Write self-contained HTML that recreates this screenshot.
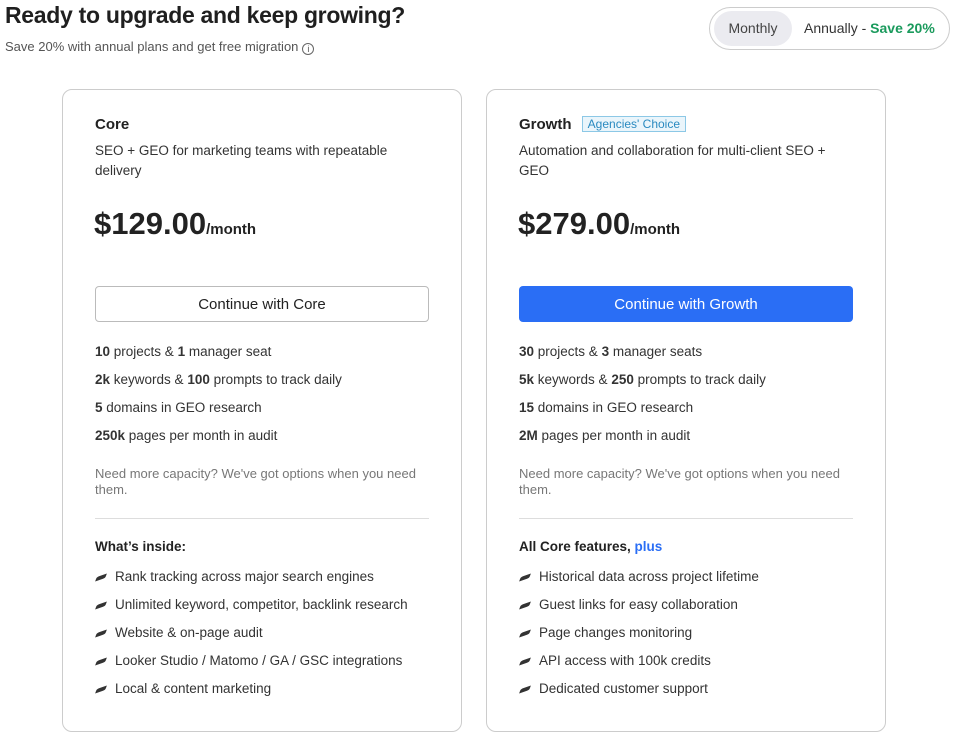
<!DOCTYPE html>
<html><head><meta charset="utf-8"><style>
*{margin:0;padding:0;box-sizing:border-box}
body{width:955px;height:739px;background:#fff;font-family:"Liberation Sans",sans-serif;color:#2b2b2b;position:relative;overflow:hidden}
.a{position:absolute;white-space:nowrap}
h1{position:absolute;left:5px;top:2px;font-size:23px;font-weight:bold;color:#1f1f1f;letter-spacing:-0.3px}
.sub{left:5px;top:39px;font-size:13px;color:#555}
.info{display:inline-block;width:12px;height:12px;border:1px solid #666;border-radius:50%;font-size:9px;text-align:center;line-height:10px;vertical-align:-1px;margin-left:4px}
.tog{left:709px;top:7px;width:241px;height:43px;border:1px solid #ccc;border-radius:22px}
.mon{left:714px;top:11px;width:78px;height:35px;background:#ebebf0;border-radius:18px;font-size:14px;color:#444;text-align:center;line-height:35px}
.ann{left:804px;top:20px;font-size:14px;color:#333}
.card{position:absolute;top:89px;width:400px;height:643px;border:1px solid #ccc;border-radius:10px}
.t{font-size:15px;font-weight:bold;color:#222}
.d{font-size:13.5px;color:#333;line-height:20px;white-space:normal;width:330px}
.p{font-size:31px;font-weight:bold;color:#222}
.p span{font-size:15px}
.btn{width:334px;height:36px;border-radius:4px;font-size:15px;text-align:center;line-height:38px}
.f{font-size:13.5px;color:#333}
.n{font-size:13px;color:#777;line-height:16px;white-space:normal;width:330px}
.hr{width:334px;height:1px;background:#ddd}
.li{font-size:13.5px;color:#333}
.li:before{content:"";display:inline-block;width:8px;height:5px;background:#333;transform:skewX(-40deg) rotate(-25deg);border-radius:2px 0 2px 0;margin:0 10px 1px 2px}
</style></head><body>
<h1>Ready to upgrade and keep growing?</h1>
<div class="a sub">Save 20% with annual plans and get free migration<span class="info">i</span></div>
<div class="a tog"></div>
<div class="a mon">Monthly</div>
<div class="a ann">Annually - <b style="color:#1a9a5c">Save 20%</b></div>

<div class="card" style="left:62px"></div>
<div class="card" style="left:486px"></div>

<div class="a t" style="left:95px;top:116px">Core</div>
<div class="a d" style="left:95px;top:141px">SEO + GEO for marketing teams with repeatable delivery</div>
<div class="a p" style="left:94px;top:206px">$129.00<span>/month</span></div>
<div class="a btn" style="left:95px;top:286px;border:1px solid #bbb;color:#222;line-height:35px">Continue with Core</div>
<div class="a f" style="left:95px;top:344px"><b>10</b> projects &amp; <b>1</b> manager seat</div>
<div class="a f" style="left:95px;top:372px"><b>2k</b> keywords &amp; <b>100</b> prompts to track daily</div>
<div class="a f" style="left:95px;top:400px"><b>5</b> domains in GEO research</div>
<div class="a f" style="left:95px;top:428px"><b>250k</b> pages per month in audit</div>
<div class="a n" style="left:95px;top:466px">Need more capacity? We've got options when you need them.</div>
<div class="a hr" style="left:95px;top:518px"></div>
<div class="a f" style="left:95px;top:539px;font-weight:bold;color:#222">What’s inside:</div>
<div class="a li" style="left:95px;top:569px">Rank tracking across major search engines</div>
<div class="a li" style="left:95px;top:597px">Unlimited keyword, competitor, backlink research</div>
<div class="a li" style="left:95px;top:625px">Website &amp; on-page audit</div>
<div class="a li" style="left:95px;top:653px">Looker Studio / Matomo / GA / GSC integrations</div>
<div class="a li" style="left:95px;top:681px">Local &amp; content marketing</div>

<div class="a t" style="left:519px;top:116px">Growth <span style="font-weight:normal;font-size:12px;color:#2a8ac0;background:#eaf5fb;border:1px solid #8cc8e6;padding:0 5px;margin-left:6px;vertical-align:1px">Agencies' Choice</span></div>
<div class="a d" style="left:519px;top:141px">Automation and collaboration for multi-client SEO + GEO</div>
<div class="a p" style="left:518px;top:206px">$279.00<span>/month</span></div>
<div class="a btn" style="left:519px;top:286px;background:#2a6ef5;color:#fff">Continue with Growth</div>
<div class="a f" style="left:519px;top:344px"><b>30</b> projects &amp; <b>3</b> manager seats</div>
<div class="a f" style="left:519px;top:372px"><b>5k</b> keywords &amp; <b>250</b> prompts to track daily</div>
<div class="a f" style="left:519px;top:400px"><b>15</b> domains in GEO research</div>
<div class="a f" style="left:519px;top:428px"><b>2M</b> pages per month in audit</div>
<div class="a n" style="left:519px;top:466px">Need more capacity? We've got options when you need them.</div>
<div class="a hr" style="left:519px;top:518px"></div>
<div class="a f" style="left:519px;top:539px;font-weight:bold;color:#222">All Core features, <span style="color:#2a6ef5">plus</span></div>
<div class="a li" style="left:519px;top:569px">Historical data across project lifetime</div>
<div class="a li" style="left:519px;top:597px">Guest links for easy collaboration</div>
<div class="a li" style="left:519px;top:625px">Page changes monitoring</div>
<div class="a li" style="left:519px;top:653px">API access with 100k credits</div>
<div class="a li" style="left:519px;top:681px">Dedicated customer support</div>
</body></html>
